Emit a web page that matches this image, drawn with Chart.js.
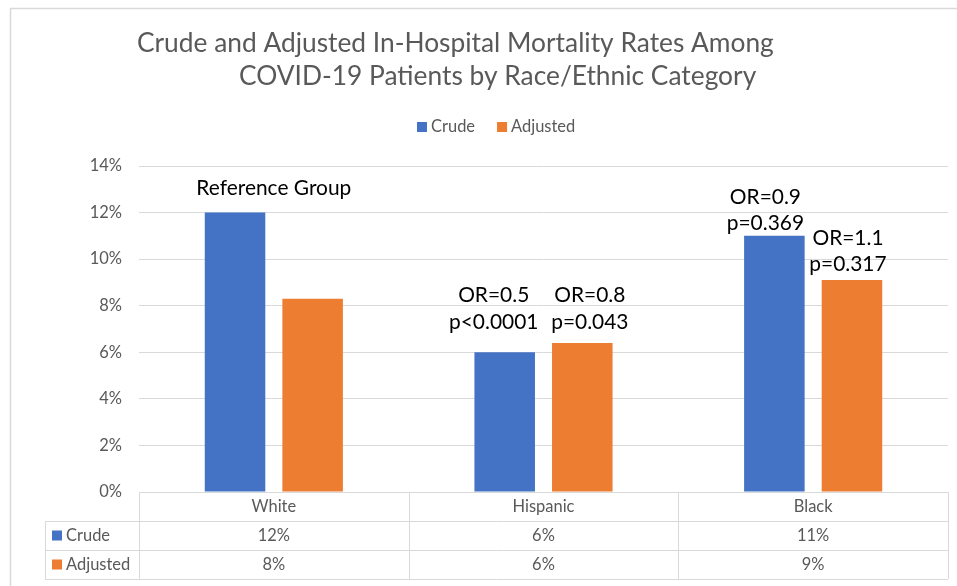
<!DOCTYPE html>
<html>
<head>
<meta charset="utf-8">
<script src="https://cdn.jsdelivr.net/npm/chart.js@4.4.1/dist/chart.umd.min.js"></script>
<style>
  html, body { margin: 0; padding: 0; background: #ffffff; }
  #wrap { width: 957px; height: 586px; position: relative; }
</style>
</head>
<body>
<div id="wrap"><canvas id="c" width="957" height="586"></canvas></div>
<script>
// ---------------- DATA ----------------
const titleLines = [
  'Crude and Adjusted In-Hospital Mortality Rates Among',
  'COVID-19 Patients by Race/Ethnic Category'
];
const categories = ['White', 'Hispanic', 'Black'];
const seriesNames = ['Crude', 'Adjusted'];
const crudeRates = [12.0, 6.0, 11.0];
const adjustedRates = [8.3, 6.4, 9.1];
const crudeTable = ['12%', '6%', '11%'];
const adjustedTable = ['8%', '6%', '9%'];
const yTicks = [0, 2, 4, 6, 8, 10, 12, 14];
const crudeNotes = [['Reference Group'], ['OR=0.5', 'p<0.0001'], ['OR=0.9', 'p=0.369']];
const adjustedNotes = [[], ['OR=0.8', 'p=0.043'], ['OR=1.1', 'p=0.317']];

// ---------------- STYLE ----------------
const COLORS = ['#4472C4', '#ED7D31'];
const GREY_TEXT = '#595959';
const GRID = '#d9d9d9';
const FONT = 'Lato, "Noto Sans", sans-serif';
// annotation placement (offset from bar centre x, and line-centre heights above bar top)
const noteStyle = [
  [{ dx: 0, atCategory: true, up: [25] }, { dx: -11, up: [58, 31] }, { dx: -9, up: [39, 13] }],
  [null, { dx: 7.5, up: [48, 21] }, { dx: -4, up: [43, 17] }]
];

const mctx = document.createElement('canvas').getContext('2d');
function fit(text, target, weight) {
  mctx.font = (weight || 'normal') + ' 100px ' + FONT;
  return 100 * target / mctx.measureText(text).width;
}
const titleSize = fit(titleLines[0], 637, 'normal');
const axisSize = fit('Hispanic', 62);
const noteSize = fit('Reference Group', 155);
const CAP = 0.7165;

const decorPlugin = {
  id: 'decor',
  beforeDraw(chart) {
    const ctx = chart.ctx;
    ctx.save();
    ctx.fillStyle = '#ffffff';
    ctx.fillRect(0, 0, chart.width, chart.height);
    ctx.strokeStyle = GRID;
    ctx.lineWidth = 1.5;
    ctx.strokeRect(10.5, 8.5, 2000, 2000);
    // title
    ctx.fillStyle = GREY_TEXT;
    ctx.font = 'normal ' + titleSize + 'px ' + FONT;
    ctx.textAlign = 'left';
    ctx.textBaseline = 'alphabetic';
    ctx.fillText(titleLines[0], 137, 52);
    ctx.fillText(titleLines[1], 239, 85);
    // legend
    ctx.font = axisSize + 'px ' + FONT;
    let x = 417;
    seriesNames.forEach((n, i) => {
      ctx.fillStyle = COLORS[i];
      ctx.fillRect(x, 122, 10, 10);
      ctx.fillStyle = GREY_TEXT;
      ctx.fillText(n, x + 14, 132);
      x += 14 + ctx.measureText(n).width + 22;
    });
    ctx.restore();
  },
  afterDatasetsDraw(chart) {
    const ctx = chart.ctx;
    ctx.save();
    ctx.font = noteSize + 'px ' + FONT;
    ctx.fillStyle = '#000000';
    ctx.textAlign = 'center';
    ctx.textBaseline = 'alphabetic';
    const notes = [crudeNotes, adjustedNotes];
    notes.forEach((set, d) => {
      const meta = chart.getDatasetMeta(d);
      set.forEach((lines, i) => {
        const st = noteStyle[d][i];
        if (!st || !lines.length) return;
        const bar = meta.data[i];
        const cx = st.atCategory ? chart.scales.x.getPixelForValue(i) : bar.x + st.dx;
        lines.forEach((t, k) => {
          ctx.fillText(t, cx, bar.y - st.up[k] + noteSize * CAP / 2);
        });
      });
    });
    ctx.restore();
  },
  afterDraw(chart) {
    const ctx = chart.ctx;
    const a = chart.chartArea;
    const xs = chart.scales.x;
    const n = categories.length;
    const w = (a.right - a.left) / n;
    const rowH = 29;
    const top = a.bottom;
    const leftCol = 45;
    ctx.save();
    ctx.strokeStyle = GRID;
    ctx.lineWidth = 1;
    ctx.beginPath();
    ctx.moveTo(a.left, Math.round(top) + 0.5); ctx.lineTo(a.right, Math.round(top) + 0.5);
    for (let r = 1; r <= 3; r++) {
      const y = Math.round(top + r * rowH) + 0.5;
      ctx.moveTo(leftCol, y); ctx.lineTo(a.right, y);
    }
    for (let c = 0; c <= n; c++) {
      const x = Math.round(a.left + c * w) + 0.5;
      ctx.moveTo(x, top); ctx.lineTo(x, top + 3 * rowH);
    }
    ctx.moveTo(leftCol + 0.5, top + rowH); ctx.lineTo(leftCol + 0.5, top + 3 * rowH);
    ctx.stroke();

    ctx.font = axisSize + 'px ' + FONT;
    ctx.fillStyle = GREY_TEXT;
    ctx.textAlign = 'center';
    ctx.textBaseline = 'alphabetic';
    const off = rowH / 2 + axisSize * CAP / 2;
    categories.forEach((c, i) => ctx.fillText(c, xs.getPixelForValue(i), top + off));
    crudeTable.forEach((t, i) => ctx.fillText(t, xs.getPixelForValue(i), top + rowH + off));
    adjustedTable.forEach((t, i) => ctx.fillText(t, xs.getPixelForValue(i), top + 2 * rowH + off));
    ctx.textAlign = 'left';
    seriesNames.forEach((s, r) => {
      const yc = top + (r + 1) * rowH + rowH / 2;
      ctx.fillStyle = COLORS[r];
      ctx.fillRect(52, yc - 5, 10, 10);
      ctx.fillStyle = GREY_TEXT;
      ctx.fillText(s, 66, top + (r + 1) * rowH + off);
    });
    ctx.restore();
  }
};

new Chart(document.getElementById('c'), {
  type: 'bar',
  data: {
    labels: categories,
    datasets: [
      { label: seriesNames[0], data: crudeRates, backgroundColor: COLORS[0] },
      { label: seriesNames[1], data: adjustedRates, backgroundColor: COLORS[1] }
    ]
  },
  options: {
    responsive: false,
    devicePixelRatio: 1,
    animation: false,
    layout: { padding: { top: 166, right: 9, bottom: 94, left: 0 } },
    datasets: { bar: { categoryPercentage: 0.5755, barPercentage: 0.78 } },
    plugins: { legend: { display: false }, title: { display: false }, tooltip: { enabled: false } },
    scales: {
      x: { display: false },
      y: {
        min: 0, max: 14,
        afterBuildTicks(scale) { scale.ticks = yTicks.map(v => ({ value: v })); },
        afterFit(scale) { scale.width = 139; },
        border: { display: false },
        grid: { color: GRID, drawTicks: false, lineWidth: 1 },
        ticks: {
          padding: 17,
          color: GREY_TEXT,
          font: { family: FONT, size: axisSize },
          callback: v => v + '%'
        }
      }
    }
  },
  plugins: [decorPlugin]
});
</script>
</body>
</html>
